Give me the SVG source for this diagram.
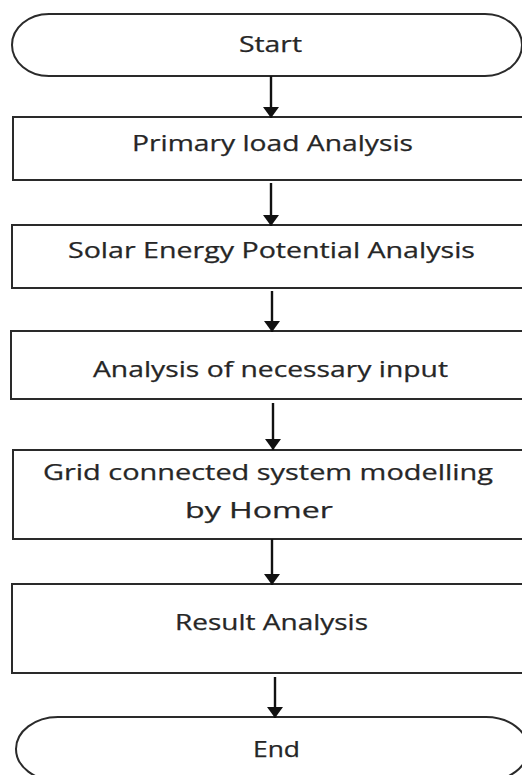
<svg xmlns="http://www.w3.org/2000/svg" width="522" height="775" viewBox="0 0 522 775">
  <style>
    .shape { fill: #ffffff; stroke: #2a2a2a; stroke-width: 2; }
    .lbl { font-family: "Open Sans", "Liberation Sans", sans-serif; font-size: 21px; fill: #262626; stroke: #262626; stroke-width: 0.25; }
    .conn { stroke: #111111; stroke-width: 2.4; fill: none; }
  </style>
  <defs>
    <marker id="ah" viewBox="0 0 11 16" refX="11" refY="8" markerWidth="11" markerHeight="16" markerUnits="userSpaceOnUse" orient="auto">
      <path d="M0,0 L11,8 L0,16 Z" fill="#111111"/>
    </marker>
  </defs>
  <rect width="522" height="775" fill="#ffffff"/>

  <g id="start">
    <rect class="shape" x="12" y="14" width="510" height="62" rx="37" ry="31"/>
    <text class="lbl" x="239" y="52" textLength="63" lengthAdjust="spacingAndGlyphs">Start</text>
  </g>
  <g id="primary-load">
    <rect class="shape" x="13" y="117" width="520" height="63"/>
    <text class="lbl" x="132" y="151" textLength="281" lengthAdjust="spacingAndGlyphs">Primary load Analysis</text>
  </g>
  <g id="solar-potential">
    <rect class="shape" x="12" y="225" width="521" height="63"/>
    <text class="lbl" x="68" y="258" textLength="407" lengthAdjust="spacingAndGlyphs">Solar Energy Potential Analysis</text>
  </g>
  <g id="necessary-input">
    <rect class="shape" x="11" y="331" width="522" height="68"/>
    <text class="lbl" x="93" y="377" textLength="355" lengthAdjust="spacingAndGlyphs">Analysis of necessary input</text>
  </g>
  <g id="homer-modelling">
    <rect class="shape" x="13" y="450" width="520" height="89"/>
    <text class="lbl" x="43" y="480" textLength="450" lengthAdjust="spacingAndGlyphs">Grid connected system modelling</text>
    <text class="lbl" x="185" y="518" textLength="148" lengthAdjust="spacingAndGlyphs">by Homer</text>
  </g>
  <g id="result-analysis">
    <rect class="shape" x="12" y="584" width="521" height="89"/>
    <text class="lbl" x="175" y="630" textLength="193" lengthAdjust="spacingAndGlyphs">Result Analysis</text>
  </g>
  <g id="end">
    <rect class="shape" x="16" y="717" width="512" height="64" rx="42" ry="32"/>
    <text class="lbl" x="253" y="757" textLength="47" lengthAdjust="spacingAndGlyphs">End</text>
  </g>

  <g id="connectors">
    <line class="conn" x1="271" y1="76" x2="271" y2="118" marker-end="url(#ah)"/>
    <line class="conn" x1="271" y1="183" x2="271" y2="226" marker-end="url(#ah)"/>
    <line class="conn" x1="272" y1="291" x2="272" y2="332" marker-end="url(#ah)"/>
    <line class="conn" x1="273" y1="403" x2="273" y2="450" marker-end="url(#ah)"/>
    <line class="conn" x1="272" y1="539" x2="272" y2="585" marker-end="url(#ah)"/>
    <line class="conn" x1="275" y1="677" x2="275" y2="718" marker-end="url(#ah)"/>
  </g>
</svg>
